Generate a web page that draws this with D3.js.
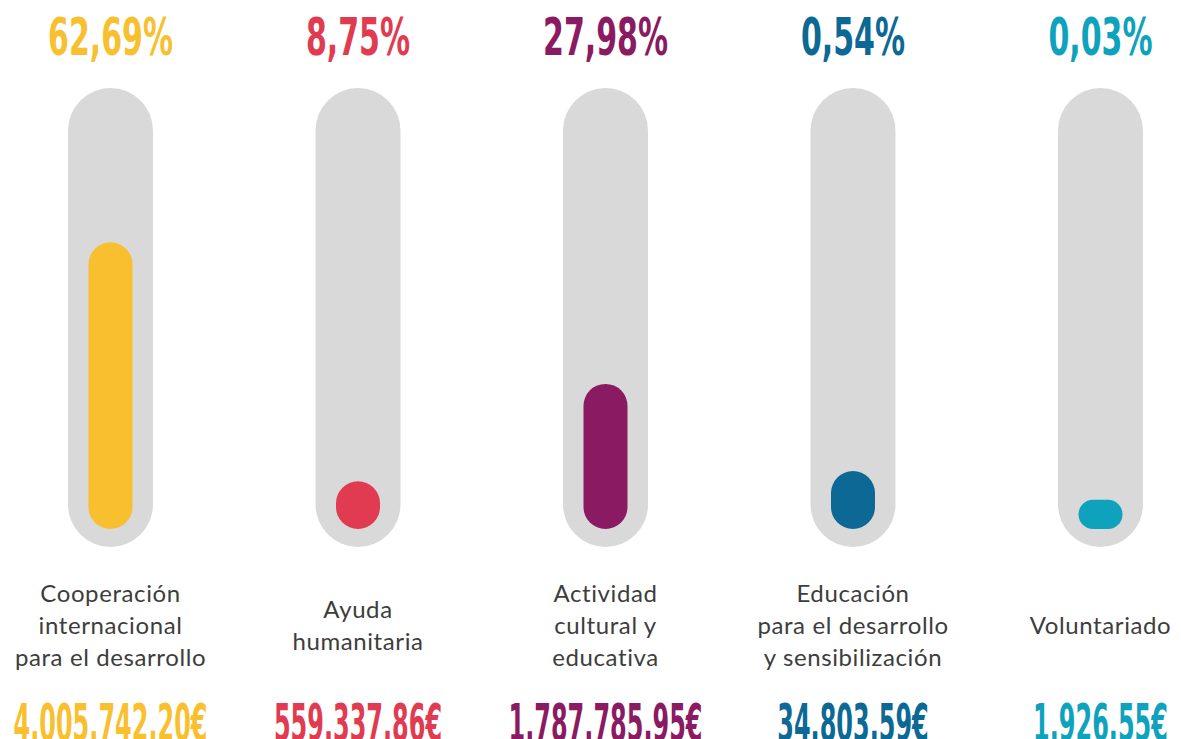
<!DOCTYPE html>
<html>
<head>
<meta charset="utf-8">
<script src="https://cdn.jsdelivr.net/npm/d3@7"></script>
<style>
  body { margin: 0; background: #fff; }
  .pct, .amount { font-family: "Liberation Sans Narrow", "DejaVu Sans Condensed", sans-serif; font-weight: bold; }
  .label { font-family: Lato, "Open Sans", sans-serif; fill: #3d3d3d; letter-spacing: 0.6px; }
</style>
</head>
<body>
<svg id="chart" width="1181" height="739"></svg>
<script>
var categories = ["coop", "ayuda", "actividad", "educacion", "voluntariado"]
var labelLines = [
    ["Cooperación", "internacional", "para el desarrollo"],
    ["Ayuda", "humanitaria"],
    ["Actividad", "cultural y", "educativa"],
    ["Educación", "para el desarrollo", "y sensibilización"],
    ["Voluntariado"]
]
var percentLabels = ["62,69%", "8,75%", "27,98%", "0,54%", "0,03%"]
var amountLabels = ["4.005.742,20€", "559.337,86€", "1.787.785,95€", "34.803,59€", "1.926,55€"]
// fill level of each thermometer as drawn in the picture (0-100 of the track)
var fillLevels = [67.8, 11.3, 34.3, 13.7, 6.9]
var colors = ["#F8C02F", "#E03B50", "#8A1A61", "#0C6894", "#0FA2BC"]

var svg = d3.select("#chart")

var trackTop = 88, trackBottom = 547, trackW = 85, barW = 44
var xScale = d3.scalePoint().domain(categories).range([110.5, 1100.5])
var yScale = d3.scaleLinear().domain([0, 100]).range([529, 106])

var g = svg.selectAll("g.col")
    .data(categories)
    .enter().append("g")
    .attr("class", "col")
    .attr("transform", d => `translate(${xScale(d)},0)`)

// gray track
g.append("rect")
    .attr("x", -trackW / 2)
    .attr("y", trackTop)
    .attr("width", trackW)
    .attr("height", trackBottom - trackTop)
    .attr("rx", trackW / 2)
    .attr("fill", "#d9d9d9")

// colored fill
g.append("rect")
    .attr("x", -barW / 2)
    .attr("y", (d, i) => yScale(fillLevels[i]))
    .attr("width", barW)
    .attr("height", (d, i) => yScale(0) - yScale(fillLevels[i]))
    .attr("rx", (d, i) => Math.min(barW / 2, (yScale(0) - yScale(fillLevels[i])) / 2))
    .attr("ry", (d, i) => Math.min(barW / 2, (yScale(0) - yScale(fillLevels[i])) / 2))
    .attr("fill", (d, i) => colors[i])

// condensed numbers: squeeze the available font to the width of the poster's lettering
function condensed(cls, texts, baseY, refWidth) {
    var wrap = g.append("g")
    var t = wrap.append("text")
        .attr("class", cls)
        .attr("text-anchor", "middle")
        .attr("font-size", 51)
        .attr("fill", (d, i) => colors[i])
        .text((d, i) => texts[i])
    var sx = refWidth / t.nodes()[0].getComputedTextLength()
    wrap.attr("transform", `translate(0,${baseY}) scale(${sx},1)`)
}
condensed("pct", percentLabels, 55, 125)
condensed("amount", amountLabels, 741, 194)

// category label
g.each(function (d, i) {
    var lines = labelLines[i]
    var lineH = 32
    var first = 634 - (lines.length - 1) * lineH / 2
    var t = d3.select(this).append("text")
        .attr("class", "label")
        .attr("text-anchor", "middle")
        .attr("font-size", 24)
    lines.forEach((l, j) => {
        t.append("tspan").attr("x", 0).attr("y", first + j * lineH).text(l)
    })
})
</script>
</body>
</html>
